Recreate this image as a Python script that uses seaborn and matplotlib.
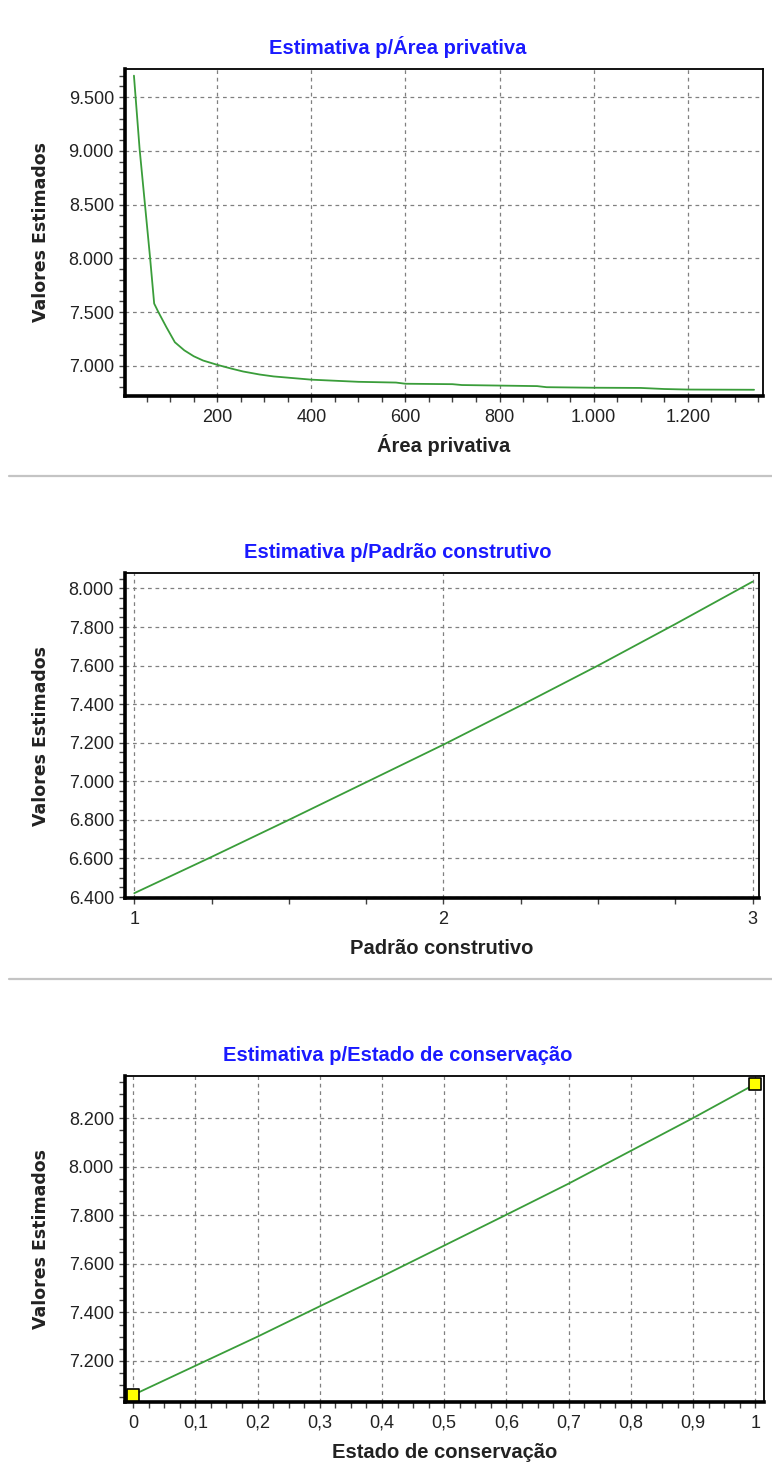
import matplotlib
matplotlib.use("Agg")
import matplotlib.pyplot as plt
from matplotlib.ticker import MultipleLocator, AutoMinorLocator, FuncFormatter
from matplotlib.lines import Line2D
import pandas as pd
import seaborn as sns

# values read off the three "Estimativa" panels
area_x = [23, 35, 46, 57, 66, 75, 92, 110, 130, 150, 170, 200, 230, 255, 290, 320, 400,
          500, 580, 600, 700, 720, 800, 880, 900, 1000, 1100, 1150, 1200, 1341]
area_y = [9700, 9020, 8520, 8020, 7580, 7500, 7360, 7220, 7145, 7090, 7050, 7010, 6975,
          6948, 6920, 6902, 6872, 6852, 6845, 6834, 6830, 6822, 6817, 6812, 6802, 6797,
          6795, 6785, 6780, 6778]

padrao_x = [1, 1.25, 1.5, 1.75, 2, 2.25, 2.5, 2.75, 3]
padrao_y = [6420, 6608, 6800, 6995, 7190, 7393, 7600, 7815, 8035]

estado_x = [0, 0.1, 0.2, 0.3, 0.4, 0.5, 0.6, 0.7, 0.8, 0.9, 1.0]
estado_y = [7060, 7180, 7300, 7425, 7548, 7675, 7802, 7930, 8065, 8200, 8340]

titles = ["Estimativa p/Área privativa", "Estimativa p/Padrão construtivo",
          "Estimativa p/Estado de conservação"]
xlabels = ["Área privativa", "Padrão construtivo", "Estado de conservação"]
ylabel = "Valores Estimados"

sns.set_style("white")
plt.rcParams["font.family"] = ["Liberation Sans", "DejaVu Sans"]

W, H = 772, 1472
fig = plt.figure(figsize=(W / 100, H / 100), dpi=100)


def axes_at(left, top, right, bottom):
    return fig.add_axes([left / W, 1 - bottom / H, (right - left) / W, (bottom - top) / H])


def thousands(v, pos):
    return f"{v:,.0f}".replace(",", ".")


def decimal_comma(v, pos):
    if abs(v - round(v)) < 1e-9:
        return f"{v:.0f}"
    return f"{v:.1f}".replace(".", ",")


panels = [
    dict(x=area_x, y=area_y, box=(125, 69, 763, 396), xlim=(4, 1360), ylim=(6720, 9762),
         xstep=200, ystep=500, yminor=5, xfmt=thousands),
    dict(x=padrao_x, y=padrao_y, box=(125, 573, 759, 898), xlim=(0.97, 3.021), ylim=(6395, 8080),
         xstep=1, ystep=200, yminor=4, xfmt=decimal_comma),
    dict(x=estado_x, y=estado_y, box=(125, 1076, 764, 1402), xlim=(-0.013, 1.014), ylim=(7031, 8373),
         xstep=0.1, ystep=200, yminor=4, xfmt=decimal_comma),
]

for i, p in enumerate(panels):
    left, top, right, bottom = p["box"]
    ax = axes_at(left, top, right, bottom)
    df = pd.DataFrame({"x": p["x"], "y": p["y"]})
    sns.lineplot(data=df, x="x", y="y", ax=ax, color="#3a9d3a", lw=1.3, zorder=3)

    if i == 2:
        sns.scatterplot(x=[estado_x[0], estado_x[-1]], y=[estado_y[0], estado_y[-1]], ax=ax,
                        marker="s", s=80, color="#ffff00", edgecolor="black", linewidth=1.2,
                        zorder=5, clip_on=False)

    ax.set_xlim(*p["xlim"])
    ax.set_ylim(*p["ylim"])
    ax.xaxis.set_major_locator(MultipleLocator(p["xstep"]))
    ax.yaxis.set_major_locator(MultipleLocator(p["ystep"]))
    ax.xaxis.set_minor_locator(AutoMinorLocator(4))
    ax.yaxis.set_minor_locator(AutoMinorLocator(p["yminor"]))
    ax.xaxis.set_major_formatter(FuncFormatter(p["xfmt"]))
    ax.yaxis.set_major_formatter(FuncFormatter(thousands))

    ax.set_axisbelow(True)
    ax.grid(True, which="major", color="#808080", linestyle=(0, (3, 3)), lw=0.9)

    for s in ["left", "bottom"]:
        ax.spines[s].set_linewidth(2.6)
        ax.spines[s].set_color("black")
    for s in ["top", "right"]:
        ax.spines[s].set_linewidth(1.3)
        ax.spines[s].set_color("black")

    ax.tick_params(which="both", bottom=True, left=True, direction="out", color="#404040",
                   width=1, length=4, labelsize=13, labelcolor="#222222")
    ax.tick_params(axis="x", which="major", pad=5)
    ax.tick_params(axis="y", which="major", pad=4)

    ax.set_xlabel(xlabels[i], fontsize=14.5, fontweight="bold", color="#222222", va="baseline")
    ax.xaxis.set_label_coords(0.5, -(452 - 396) / (bottom - top))
    ax.set_ylabel(ylabel, fontsize=12.5, fontweight="bold", color="#222222",
                  family=["DejaVu Sans"], va="center")
    ax.yaxis.set_label_coords(-(left - 41) / (right - left), 0.5)

    fig.text(398 / W, 1 - (top - 15) / H, titles[i], ha="center", va="baseline",
             fontsize=14.5, fontweight="bold", color="#1a1aff")

# grey separators between the panels
for yy in [476, 979]:
    fig.add_artist(Line2D([9 / W, 1], [1 - yy / H, 1 - yy / H], color="#c4c4c4", lw=1.6))

fig.savefig("out.png", dpi=100, facecolor="white")
